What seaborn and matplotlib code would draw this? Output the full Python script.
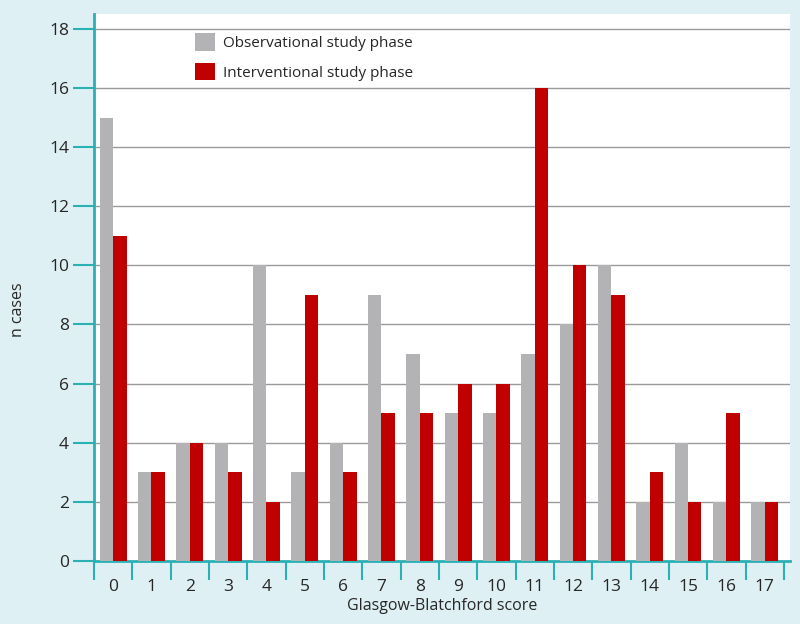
import numpy as np
import pandas as pd
import matplotlib
matplotlib.use("Agg")
import matplotlib.pyplot as plt
import seaborn as sns

scores = [str(i) for i in range(18)]
observational = [15, 3, 4, 4, 10, 3, 4, 9, 7, 5, 5, 7, 8, 10, 2, 4, 2, 2]
interventional = [11, 3, 4, 3, 2, 9, 3, 5, 5, 6, 6, 16, 10, 9, 3, 2, 5, 2]
series_names = ["Observational study phase", "Interventional study phase"]
y_ticks = [0, 2, 4, 6, 8, 10, 12, 14, 16, 18]

df = pd.DataFrame({
    "score": scores * 2,
    "n": observational + interventional,
    "phase": [series_names[0]] * len(scores) + [series_names[1]] * len(scores),
})

sns.set_style("white")
plt.rcParams["font.family"] = ["Open Sans", "DejaVu Sans"]

bg = "#dff0f5"
teal = "#2bb0b4"
fig = plt.figure(figsize=(8, 6.24), dpi=100, facecolor=bg)
ax = fig.add_axes([0.1175, 0.101, 0.87, 0.8765])
ax.set_facecolor("white")

sns.barplot(data=df, x="score", y="n", hue="phase", order=scores,
            hue_order=series_names,
            palette={series_names[0]: "#b3b3b5", series_names[1]: "#c00000"},
            width=0.7, saturation=1, ax=ax, zorder=3, linewidth=0)

ax.set_ylim(0, 18.5)
ax.set_xlim(-0.5, 17.66)
ax.set_yticks(y_ticks)
for y in y_ticks[1:]:
    ax.axhline(y, color="#9a9a9a", linewidth=1.0, zorder=1)

for s in ["top", "right"]:
    ax.spines[s].set_visible(False)
for s in ["left", "bottom"]:
    ax.spines[s].set_color(teal)
    ax.spines[s].set_linewidth(2)

ax.tick_params(axis="y", direction="out", length=15, width=1.5, color=teal,
               labelsize=12.5, pad=3, left=True)
ax.tick_params(axis="x", which="major", length=0, labelsize=12.5, pad=13)
ax.set_xticks(np.arange(-0.5, 18, 1), minor=True)
ax.tick_params(axis="x", which="minor", direction="out", length=14, width=1.5,
               color=teal, bottom=True)

ax.set_xlabel("Glasgow-Blatchford score", fontsize=11.5, labelpad=2)
ax.set_ylabel("n cases", fontsize=11.5)
ax.yaxis.set_label_coords(-0.097, 0.459)

leg = ax.legend(loc="upper left", bbox_to_anchor=(0.126, 0.99), frameon=False,
                fontsize=11, handlelength=1.3, handleheight=1.4,
                handletextpad=0.5, labelspacing=0.75)

fig.savefig("out.png", dpi=100, facecolor=bg)
